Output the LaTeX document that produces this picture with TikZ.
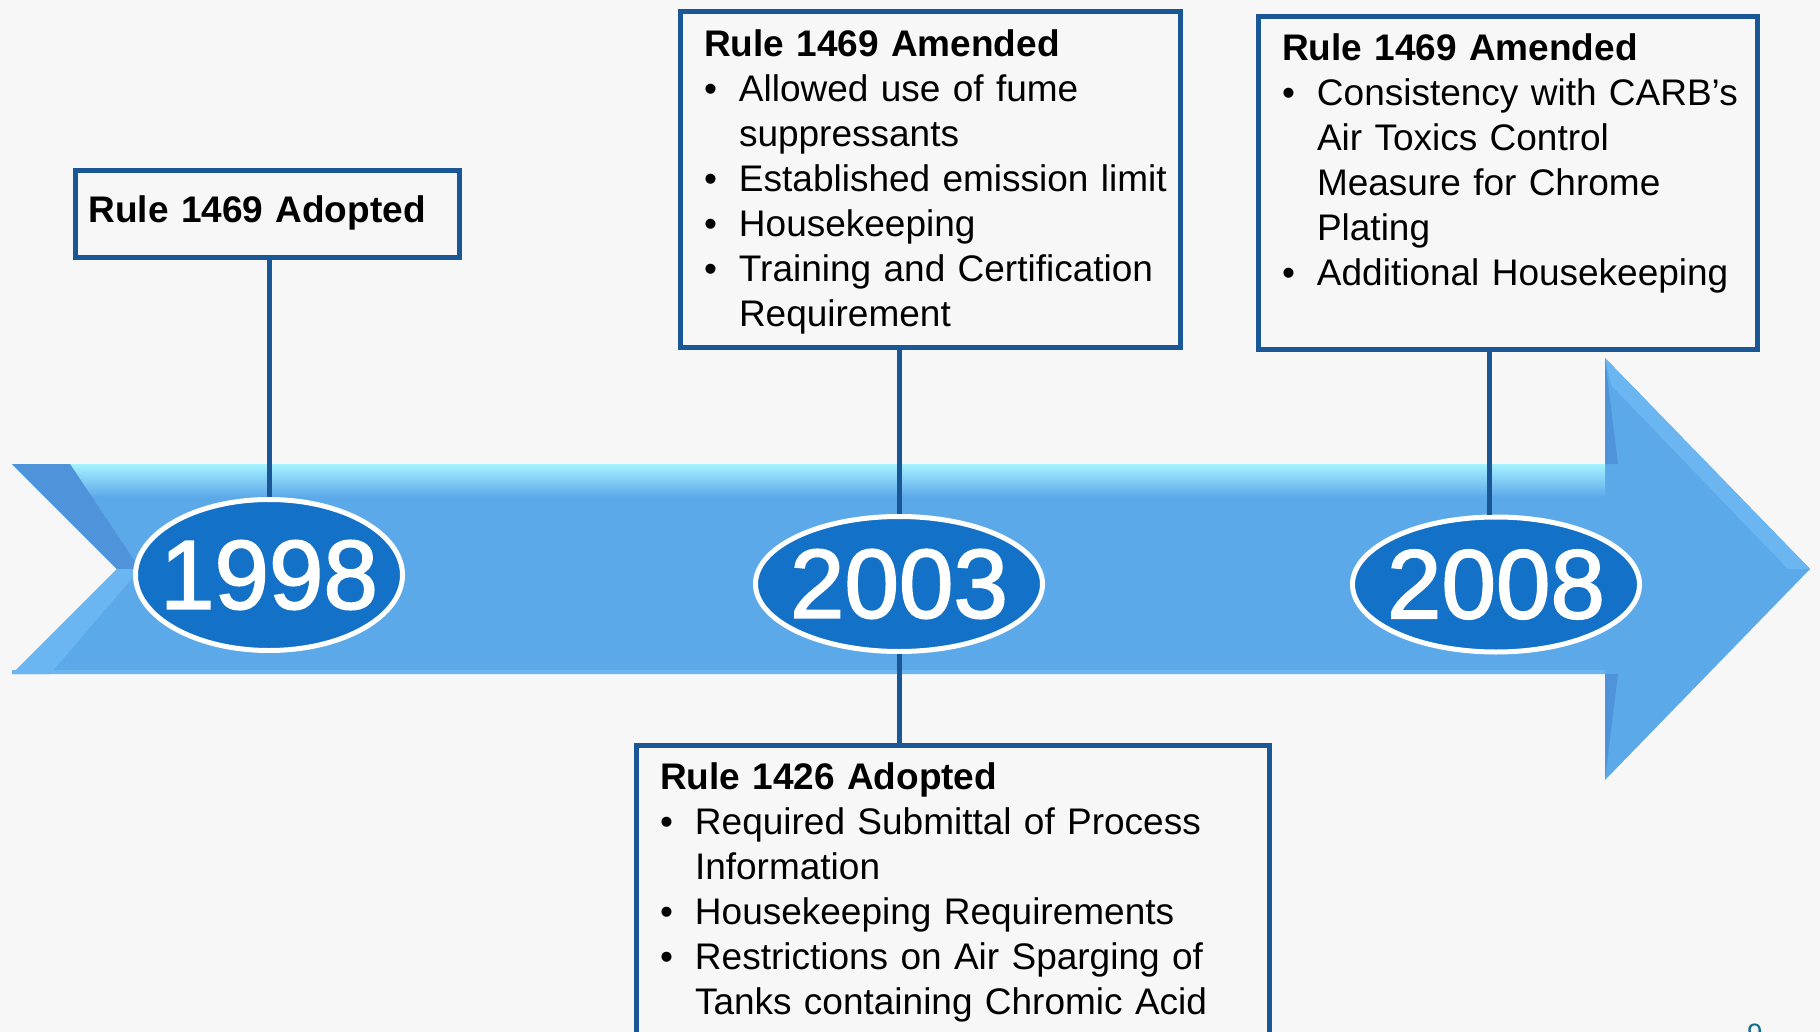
\documentclass[tikz,border=0pt]{standalone}
\usepackage{fontspec}
\setmainfont{Liberation Sans}
\newfontfamily\yearfont[FakeBold=1.8]{Liberation Sans}
\usetikzlibrary{shapes.geometric}

\definecolor{paper}{HTML}{F7F7F7}
\definecolor{edgeblue}{HTML}{1A5797}
\definecolor{arrowblue}{HTML}{5CA9EA}
\definecolor{sheen}{HTML}{A6F2FF}
\definecolor{bevdark}{HTML}{4F93DB}
\definecolor{bevlight}{HTML}{6BB6F1}
\definecolor{yearblue}{HTML}{1371C7}
\definecolor{pageteal}{HTML}{0F6E8C}

\newcommand{\yr}[1]{\makebox[0pt]{#1}}
\newcommand{\bulletline}[1]{\makebox[35pt][l]{\textbullet}\mbox{#1}}
\newcommand{\contline}[1]{\hspace*{35pt}\mbox{#1}}

\tikzset{
	note/.style={draw=edgeblue, line width=5pt, anchor=north west, align=left,
		inner xsep=23.5pt, inner ysep=0pt, text height=45pt,
		font=\fontsize{37}{45}\selectfont},
	year/.style={ellipse, fill=yearblue, draw=white, line width=5pt, text=white,
		inner sep=0pt, minimum width=287pt, minimum height=135pt,
		font=\yearfont\fontsize{98}{100}\selectfont},
	link/.style={draw=edgeblue, line width=5pt}
}

\begin{document}
\begin{tikzpicture}[x=1pt,y=-1pt]
			\useasboundingbox (0,0) rectangle (1820,1032);
			\fill[paper] (0,0) rectangle (1820,1032);

			% timeline arrow
			\fill[arrowblue] (12,464) -- (1605,464) -- (1605,358) -- (1810,569) -- (1605,780) -- (1605,674) -- (12,674) -- (117,569) -- cycle;
			\shade[top color=sheen, bottom color=arrowblue] (12,464) -- (1605,464) -- (1605,497) -- (45,497) -- cycle;
			\fill[bevlight] (1605,670) rectangle (12,674);
			\fill[bevdark] (12,464) -- (117,569) -- (140,569) -- (70,464) -- cycle;
			\fill[bevlight] (117,569) -- (12,674) -- (50,674) -- (140,569) -- cycle;
			\fill[bevlight] (1605,358) -- (1810,569) -- (1788,569) -- (1611,385) -- cycle;
			\fill[bevdark] (1605,358) -- (1605,464) -- (1618,464) -- cycle;
			\fill[bevdark] (1605,674) -- (1605,780) -- (1618,674) -- cycle;

			\node(Y1998)		[year, minimum width=267pt, minimum height=151pt]	at (269,575)	{\yr{1998}};
			\node(Y2003)		[year]		at (899,584)		{\yr{2003}};
			\node(Y2008)		[year]		at (1496,584.5)	{\yr{2008}};

			\node(Adopt1469)	[note, text width=358pt, inner xsep=13pt, text height=52.5pt, text depth=34.5pt]	at (73,168)
				{\textbf{Rule 1469 Adopted}};
			\node(Amend2003)	[note, text width=453pt, text height=45.5pt, text depth=290pt]	at (678,9)
				{\textbf{Rule 1469 Amended}\\
				\bulletline{Allowed use of fume}\\
				\contline{suppressants}\\
				\bulletline{Established emission limit}\\
				\bulletline{Housekeeping}\\
				\bulletline{Training and Certification}\\
				\contline{Requirement}};
			\node(Amend2008)	[note, text width=452pt, text height=44.5pt, text depth=288.5pt]	at (1256,14)
				{\textbf{Rule 1469 Amended}\\
				\bulletline{Consistency with CARB’s}\\
				\contline{Air Toxics Control}\\
				\contline{Measure for Chrome}\\
				\contline{Plating}\\
				\bulletline{Additional Housekeeping}};
			\node(Adopt1426)	[note, text width=586pt, text height=44pt, text depth=300pt]	at (634,743)
				{\textbf{Rule 1426 Adopted}\\
				\bulletline{Required Submittal of Process}\\
				\contline{Information}\\
				\bulletline{Housekeeping Requirements}\\
				\bulletline{Restrictions on Air Sparging of}\\
				\contline{Tanks containing Chromic Acid}};

			\node(PageNo)		[anchor=base, text=pageteal, font=\fontsize{28}{30}\selectfont]	at (1755,1043)	{9};

			\draw[link](Y1998.north)	-- (Y1998.north |- Adopt1469.south);
			\draw[link](Y2003.north)	-- (Y2003.north |- Amend2003.south);
			\draw[link](Y2003.south)	-- (Y2003.south |- Adopt1426.north);
			\draw[link](Y2008.95)		-- (Y2008.95 |- Amend2008.south);
\end{tikzpicture}
\end{document}
